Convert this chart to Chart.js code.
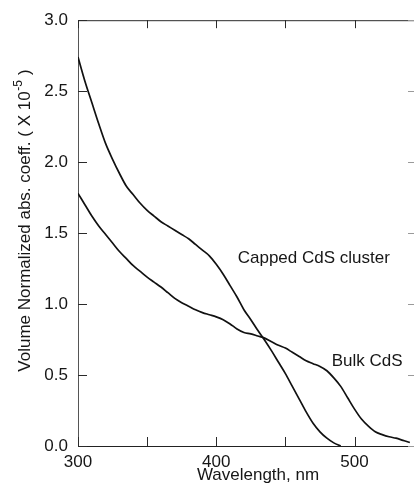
<!DOCTYPE html>
<html>
<head>
<meta charset="utf-8">
<script src="https://cdn.jsdelivr.net/npm/chart.js@4/dist/chart.umd.min.js"></script>
<style>
  html, body { margin: 0; padding: 0; background: #fff; }
  #wrap { width: 414px; height: 492px; position: relative; }
</style>
</head>
<body>
<div id="wrap"><canvas id="c" width="414" height="492"></canvas></div>
<script>
// ---- Data ----
const cappedWavelength = [300, 305, 310, 315, 320, 325, 330, 335, 340, 345, 350, 355, 360, 365, 370, 375, 380, 385, 390, 395, 400, 405, 410, 415, 420, 425, 430, 435, 440, 445, 450, 455, 460, 465, 470, 475, 480, 485, 490];
const cappedAbs        = [2.74, 2.57, 2.42, 2.27, 2.13, 2.02, 1.92, 1.83, 1.77, 1.71, 1.66, 1.62, 1.58, 1.55, 1.52, 1.49, 1.46, 1.42, 1.38, 1.34, 1.28, 1.21, 1.13, 1.05, 0.96, 0.89, 0.815, 0.745, 0.67, 0.59, 0.51, 0.42, 0.33, 0.24, 0.16, 0.10, 0.055, 0.022, 0.0];

const bulkWavelength = [300, 305, 310, 315, 320, 325, 330, 335, 340, 345, 350, 355, 360, 365, 370, 375, 380, 385, 390, 395, 400, 405, 410, 415, 420, 425, 430, 435, 440, 445, 450, 455, 460, 465, 470, 475, 480, 485, 490, 495, 500, 505, 510, 515, 520, 525, 530, 535, 540];
const bulkAbs        = [1.78, 1.70, 1.62, 1.55, 1.49, 1.43, 1.37, 1.32, 1.27, 1.23, 1.19, 1.155, 1.12, 1.08, 1.04, 1.01, 0.985, 0.96, 0.94, 0.925, 0.91, 0.89, 0.86, 0.825, 0.80, 0.79, 0.775, 0.76, 0.735, 0.71, 0.69, 0.66, 0.63, 0.60, 0.58, 0.56, 0.53, 0.48, 0.42, 0.34, 0.26, 0.19, 0.14, 0.10, 0.08, 0.065, 0.055, 0.04, 0.025];

const xTickValues = [300, 350, 400, 450, 500];
const yTickValues = [0, 0.5, 1.0, 1.5, 2.0, 2.5, 3.0];

const seriesLabels = ["Capped CdS cluster", "Bulk CdS"];
const xTitle = "Wavelength, nm";
const yTitleMain = "Volume Normalized abs. coeff. ( X 10";
const yTitleSup = "-5";
const yTitleEnd = " )";

const FONT = "'Liberation Sans', Arial, Helvetica, sans-serif";
const INK = "#161616";

const toPoints = (xs, ys) => xs.map((v, i) => ({ x: v, y: ys[i] }));

const framePlugin = {
  id: 'frame',
  afterDraw(chart) {
    const { ctx, chartArea: a, scales: { x, y } } = chart;
    ctx.save();
    ctx.strokeStyle = '#2a2a2a';
    ctx.lineWidth = 1;
    // top border
    ctx.beginPath();
    ctx.moveTo(a.left, a.top + 0.5);
    ctx.lineTo(a.right, a.top + 0.5);
    ctx.stroke();
    // inward x ticks (bottom and top)
    xTickValues.forEach(v => {
      const px = Math.round(x.getPixelForValue(v)) + 0.5;
      ctx.beginPath();
      ctx.moveTo(px, a.bottom);
      ctx.lineTo(px, a.bottom - 9);
      ctx.moveTo(px, a.top);
      ctx.lineTo(px, a.top + 8);
      ctx.stroke();
    });
    // inward y ticks (left, faint right)
    yTickValues.forEach(v => {
      const py = Math.round(y.getPixelForValue(v)) + 0.5;
      ctx.strokeStyle = '#2a2a2a';
      ctx.beginPath();
      ctx.moveTo(a.left, py);
      ctx.lineTo(a.left + 9, py);
      ctx.stroke();
      ctx.strokeStyle = '#9a9a9a';
      ctx.beginPath();
      ctx.moveTo(a.right - 6, py);
      ctx.lineTo(a.right, py);
      ctx.stroke();
    });

    // Texts
    ctx.fillStyle = INK;
    ctx.textBaseline = 'middle';
    // series annotations
    ctx.font = "17px " + FONT;
    ctx.textAlign = 'left';
    ctx.fillText(seriesLabels[0], x.getPixelForValue(415.5), y.getPixelForValue(1.32));
    ctx.fillText(seriesLabels[1], x.getPixelForValue(483.5), y.getPixelForValue(0.60));

    // x title
    ctx.font = "17px " + FONT;
    ctx.textAlign = 'center';
    ctx.fillText(xTitle, 258, 475);

    // y title with superscript
    ctx.save();
    ctx.translate(25, 221);
    ctx.rotate(-Math.PI / 2);
    const mainFont = "17px " + FONT;
    const supFont = "12px " + FONT;
    ctx.font = mainFont;
    const w1 = ctx.measureText(yTitleMain).width;
    const w3 = ctx.measureText(yTitleEnd).width;
    ctx.font = supFont;
    const w2 = ctx.measureText(yTitleSup).width;
    const total = w1 + w2 + w3;
    let sx = -total / 2;
    ctx.textAlign = 'left';
    ctx.font = mainFont;
    ctx.fillText(yTitleMain, sx, 0);
    sx += w1;
    ctx.font = supFont;
    ctx.fillText(yTitleSup, sx + 0.5, -6);
    sx += w2 + 1;
    ctx.font = mainFont;
    ctx.fillText(yTitleEnd, sx, 0);
    ctx.restore();

    ctx.restore();
  }
};

new Chart(document.getElementById('c'), {
  type: 'line',
  data: {
    datasets: [
      {
        label: seriesLabels[0],
        data: toPoints(cappedWavelength, cappedAbs),
        borderColor: '#111',
        borderWidth: 1.7,
        pointRadius: 0,
        cubicInterpolationMode: 'monotone',
        fill: false
      },
      {
        label: seriesLabels[1],
        data: toPoints(bulkWavelength, bulkAbs),
        borderColor: '#111',
        borderWidth: 1.7,
        pointRadius: 0,
        cubicInterpolationMode: 'monotone',
        fill: false
      }
    ]
  },
  options: {
    responsive: false,
    animation: false,
    devicePixelRatio: 1,
    layout: { padding: { top: 20, right: 0, left: 0, bottom: 0 } },
    plugins: { legend: { display: false }, tooltip: { enabled: false } },
    scales: {
      x: {
        type: 'linear',
        min: 300,
        max: 543,
        afterFit(s) { s.height = 46; },
        afterBuildTicks(s) { s.ticks = xTickValues.map(v => ({ value: v })); },
        grid: { display: false, drawTicks: false },
        border: { display: true, color: '#222', width: 1 },
        ticks: {
          padding: 6,
          color: INK,
          font: { family: FONT, size: 17 },
          maxRotation: 0,
          callback: v => (v % 100 === 0 ? String(v) : '')
        }
      },
      y: {
        type: 'linear',
        min: 0,
        max: 3.0,
        afterFit(s) { s.width = 78; },
        afterBuildTicks(s) { s.ticks = yTickValues.map(v => ({ value: v })); },
        grid: { display: false, drawTicks: false },
        border: { display: true, color: '#555', width: 1 },
        ticks: {
          padding: 10,
          color: INK,
          font: { family: FONT, size: 17 },
          callback: v => Number(v).toFixed(1)
        }
      }
    }
  },
  plugins: [framePlugin]
});
</script>
</body>
</html>
